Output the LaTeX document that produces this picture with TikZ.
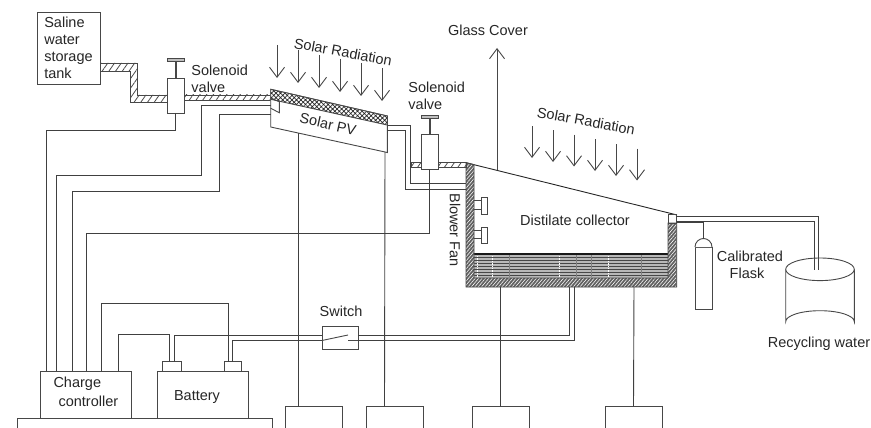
\documentclass[tikz,border=0pt]{standalone}
\usepackage{fontspec}
\setmainfont{Liberation Sans}
\usetikzlibrary{arrows.meta,patterns.meta}

\begin{document}
\begin{tikzpicture}[
  x=1pt, y=-1pt,
  font=\fontsize{14.5}{17}\selectfont,
  text=black!85,
  line width=0.9pt,
  >={Straight Barb[length=10pt,width=15pt]},
  box/.style={draw=black!72, fill=white, inner sep=0pt, outer sep=0pt, anchor=north west, align=left},
  lbl/.style={inner sep=0pt, align=center},
  wire/.style={draw=black!75},
  pipe/.style={draw=black!72, pattern={Lines[angle=55,distance=5.5pt,line width=.8pt]}, pattern color=black!70},
  wall/.style={draw=black!72, preaction={fill=black!62}, pattern={Lines[angle=50,distance=2.6pt,line width=.55pt]}, pattern color=white},
  ray/.style={->, draw=black!72}
]
\clip (0,0) rectangle (871,428);

% feed line and first valve
\node[box, minimum width=63pt, minimum height=72pt] (tank) at (37,12) {Saline\\water\\storage\\tank};
\path[pipe] (tank.east |- 0,63) -- (137,63) -- (137,95) -- (170,95) -- (170,102) -- (130,102) -- (130,71) -- (100,71) -- cycle;
\path[pipe] (180,95) -- (271,95) -- (271,100) -- (180,100) -- cycle;
\node[box, minimum width=17pt, minimum height=35pt] (valveA) at (167,78) {};
\draw[draw=black!72, line width=2pt] (valveA.north) -- ++(0,-18);
\node[box, fill=black!25, minimum width=17pt, minimum height=3pt] (capA) at (167,58) {};
\node[lbl, anchor=west, align=left] (valveAtxt) at (191,78.5) {Solenoid\\valve};

% solar panel
\coordinate (pvA) at (270.7,105);
\coordinate (pvB) at (270.7,114);
\coordinate (pvC) at (298,133);
\coordinate (pvD) at (385,152);
\coordinate (pvE) at (387,125);
\coordinate (pvF) at (387,130);
\draw[draw=black!72, fill=white] (270.7,89.3) -- (387.3,116) -- (387.3,152.5) -- (270.7,127) -- cycle;
\path[draw=black!72, preaction={fill=white}, pattern={Hatch[angle=45,distance=3.2pt,line width=.7pt]}, pattern color=black!85]
  (270.7,89.3) -- (387.3,116) -- (387.3,125) -- (270.7,99.3) -- cycle;
\draw[draw=black!72] (270.7,98) -- (279.3,101.7) -- (279.3,112.7) -- (270.7,108.3);
\node[lbl, rotate=-12.5] (pvtxt) at (328,124) {Solar PV};
\foreach \x/\y in {277/45,298/50,319/55,340/59,361/63,382/68}
  \draw[ray] (\x,\y) -- ++(0,33);
\node[lbl, rotate=-10.5] (solarA) at (343,52) {Solar Radiation};

% collector
\coordinate (basin) at (466,287);
\fill[white] (474,165) -- (677,215) -- (668,278) -- (474,278) -- cycle;
\fill[black!28] (474,254) rectangle (668,278);
\foreach \y in {254,257,...,278}
  \draw[draw=black!72, line width=.8pt] (474,\y) -- (668,\y);
\draw[draw=black!90, line width=1.1pt] (474,254) -- (668,254);
\foreach \x in {477,492,559,608}
  \draw[white, line width=.7pt, dash pattern=on 1.4pt off 1pt] (\x,256) -- (\x,277);
\foreach \x in {509,576,591,641}
  \draw[black!50, line width=.5pt] (\x,255) -- (\x,277);
\draw[draw=black!85] (466,162.7) -- (677,215);
\path[wall] (466,162.7) -- (474,164.7) -- (474,278) -- (668,278) -- (668,223) -- (676.7,223) -- (basin -| 676.7,0) -- (basin) -- cycle;
\draw[draw=black!72] (668,214) rectangle (676.7,223);
\node[box, minimum width=5.6pt, minimum height=16.3pt] (fanA) at (481.7,197.7) {};
\node[box, minimum width=5.6pt, minimum height=16pt] (fanB) at (481.7,227) {};
\draw[draw=black!72] (474,200) -- (fanA.west |- 0,200) (474,209) -- (fanA.west |- 0,209);
\draw[draw=black!72] (474,230) -- (fanB.west |- 0,230) (474,238) -- (fanB.west |- 0,238);
\node[lbl, rotate=-90] (blower) at (455,230) {Blower Fan};
\node[lbl] (distilate) at (575,220) {Distilate collector};
\foreach \x/\y in {532/126,553/130,574/134.5,595/139,616/144,637/148.5}
  \draw[ray] (\x,\y) -- ++(0,32);
\node[lbl, rotate=-10.5] (solarB) at (586,121) {Solar Radiation};
\coordinate (glassTip) at (497,48);
\coordinate (glassFoot) at (497,170);
\draw[ray] (glassFoot) -- (glassTip);
\node[lbl] (glass) at (488,30) {Glass Cover};

% second valve
\path[pipe] (411,162) -- (466,162) -- (466,167) -- (411,167) -- cycle;
\node[box, minimum width=17pt, minimum height=35pt] (valveB) at (421,134) {};
\draw[draw=black!72, line width=2pt] (valveB.north) -- ++(0,-18);
\node[box, fill=black!25, minimum width=17pt, minimum height=3pt] (capB) at (421,115) {};
\node[lbl, anchor=west, align=left] (valveBtxt) at (408,95.5) {Solenoid\\valve};
\draw[wire] (pvE) -| (410,183) -- (466,183);
\draw[wire] (pvF) -| (405,189) -- (466,189);

% controller and battery
\node[box, minimum width=91pt, minimum height=47pt] (charge) at (40.5,371) {};
\node[lbl] (chargeA) at (77.3,384) {Charge};
\node[lbl] (chargeB) at (88.4,401) {controller};
\node[box, minimum width=90.5pt, minimum height=47pt] (battery) at (157.5,371) {};
\node[lbl] (batterytxt) at (197,397) {Battery};
\node[box, minimum width=18.5pt, minimum height=9.5pt] (termA) at (162.5,361.5) {};
\node[box, minimum width=17pt, minimum height=9.5pt] (termB) at (224.5,361.5) {};
\node[box, minimum width=255pt, minimum height=20pt] (base) at (17,418) {};
\node[box, minimum width=57pt, minimum height=30pt] (loadA) at (285,406.5) {};
\node[box, minimum width=57pt, minimum height=30pt] (loadB) at (366,406.5) {};
\node[box, minimum width=57pt, minimum height=30pt] (loadC) at (472,406.5) {};
\node[box, minimum width=57pt, minimum height=30pt] (loadD) at (605,406.5) {};
\node[box, minimum width=36pt, minimum height=23pt] (switch) at (322,326) {};
\node[lbl] (switchtxt) at (341,311) {Switch};
\draw[draw=black!72] ([yshift=-3pt]switch.west) -- (348,335) (348,340.5) -- ([yshift=-3pt]switch.east);

% wiring
\draw[wire] (valveA.south) -- ++(0,17) -| ([xshift=5.5pt]charge.north west);
\draw[wire] (pvA) -| (201,175) -| ([xshift=16pt]charge.north west);
\draw[wire] (pvB) -| (219,191.5) -| ([xshift=31.5pt]charge.north west);
\draw[wire] (valveB.south) -- ++(0,64) -| ([xshift=45.5pt]charge.north west);
\draw[wire] ([xshift=61pt]charge.north west) -- ++(0,-68) -| ([xshift=3.5pt]termB.north west);
\draw[wire] ([xshift=77.5pt]charge.north west) -- ++(0,-36.5) -| ([xshift=6.5pt]termA.north west);
\draw[wire] ([xshift=12pt]termA.north west) -- ++(0,-26) -- ([yshift=2pt]switch.west);
\draw[wire] ([xshift=7.5pt]termB.north west) -- ++(0,-21) -- ([yshift=-3pt]switch.west);
\draw[wire] ([yshift=2pt]switch.east) -| ([xshift=103pt]basin);
\draw[wire] ([yshift=-3pt]switch.east) -| ([xshift=108.5pt]basin);
\draw[wire] (pvC) -- ([xshift=13pt]loadA.north west);
\draw[wire] (pvD) -- ([xshift=18.5pt]loadB.north west);
\draw[wire] ([xshift=34pt]basin) -- ([xshift=28pt]loadC.north west);
\draw[wire] ([xshift=168pt]basin) -- (loadD.north);

% flask and recycling tank
\node[box, minimum width=17pt, minimum height=62pt] (flask) at (695,247) {};
\draw[draw=black!72, fill=white] (flask.north west) arc[start angle=180, end angle=360, x radius=8.5pt, y radius=-8.5pt];
\draw[wire] (676.7,222) -| (flask.north |- 0,239);
\node[lbl] (flasktxtA) at (750,256) {Calibrated};
\node[lbl] (flasktxtB) at (747,273) {Flask};
\draw[draw=black!72, fill=white] (785.7,269.3) -- (785.7,321.7) arc[start angle=180, end angle=360, x radius=34.3pt, y radius=-11pt] -- (854.3,269.3);
\draw[draw=black!72, fill=white] (820,269.3) ellipse[x radius=34.3pt, y radius=11.3pt];
\coordinate (drainA) at (818,270);
\coordinate (drainB) at (814,270);
\draw[wire] (676.7,216) -| (drainA);
\draw[wire] (676.7,221) -| (drainB);
\node[lbl] (recycle) at (819,344) {Recycling water};
\end{tikzpicture}
\end{document}
